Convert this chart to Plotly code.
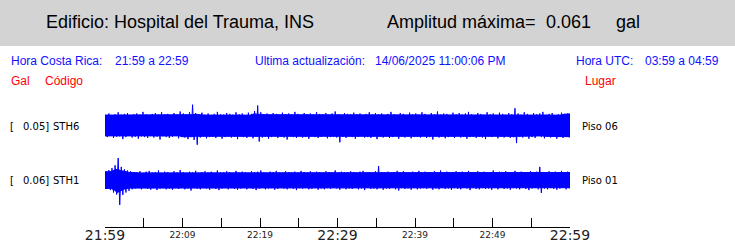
import datetime as dt
import plotly.graph_objects as go

# ---------------- data ----------------
building = "Edificio: Hospital del Trauma, INS"
amp_label = "Amplitud máxima="
amp_value = "0.061"
amp_unit = "gal"
hora_cr = "21:59 a 22:59"
ultima = "14/06/2025 11:00:06 PM"
hora_utc = "03:59 a 04:59"

stations = ["STH6", "STH1"]
scales = ["0.05", "0.06"]
places = ["Piso 06", "Piso 01"]

big_tick_labels = ["21:59", "22:29", "22:59"]
small_tick_labels = ["22:09", "22:19", "22:39", "22:49"]

# envelope of each record, per 24 s window, in milligal (upper peak, lower peak magnitude)
top_sth6 = [27,30,26,28,33,27,29,31,26,28, 30,27,34,28,26,29,31,27,33,28,
            29,26,31,28,35,30,27,33,52,31, 28,32,27,30,26,29,34,28,27,31,
            29,27,33,28,30,26,32,29,36,50, 33,28,30,27,31,29,26,32,28,30,
            27,34,29,26,31,28,30,27,33,29, 28,31,27,30,35,28,26,31,29,27,
            32,28,30,26,29,33,27,31,28,30, 26,29,34,28,27,31,29,26,32,28,
            30,27,33,29,26,31,28,35,27,30, 29,26,32,28,31,27,30,34,28,26,
            31,29,27,33,28,30,26,32,29,27, 31,28,43,30,27,33,29,26,31,28,
            30,34,27,29,31,26,28,32,29,30]
bot_sth6 = [29,26,31,28,27,34,29,26,30,28, 33,27,29,31,26,30,28,35,27,29,
            31,28,26,32,29,30,34,28,36,48, 30,27,32,29,28,31,26,33,29,27,
            30,28,34,27,29,31,26,32,28,40, 30,27,33,29,26,31,28,30,35,27,
            29,31,26,30,28,33,27,29,31,28, 26,32,29,27,30,42,28,31,27,29,
            33,28,26,30,29,31,27,34,28,30, 27,31,29,26,33,28,30,27,32,29,
            28,30,26,31,29,35,27,30,28,32, 29,27,31,26,30,28,33,29,27,31,
            28,30,34,27,29,26,32,28,30,27, 31,29,44,28,30,27,33,29,31,26,
            29,32,28,30,27,33,29,31,28,30]
top_sth1 = [22,26,31,38,56,34,28,25,23,21, 20,23,19,22,24,20,21,25,19,22,
            21,19,23,20,26,21,19,22,20,24, 19,21,23,20,22,19,25,21,20,23,
            21,19,24,20,22,21,19,23,20,22, 25,20,19,22,21,24,20,19,23,21,
            20,22,19,24,21,20,23,19,22,21, 19,23,21,20,25,19,22,21,20,23,
            21,19,22,24,20,21,19,23,36,21, 20,22,19,21,24,20,23,19,21,22,
            20,24,19,22,21,20,23,19,25,21, 22,19,21,23,20,22,19,24,21,20,
            23,19,22,20,21,25,19,22,20,23, 21,19,24,20,22,21,19,23,20,22,
            34,21,20,23,19,22,21,24,20,22]
bot_sth1 = [20,24,30,35,61,36,30,26,22,20, 19,22,18,21,23,19,24,20,18,22,
            20,23,19,21,18,22,20,25,19,21, 22,18,20,23,19,21,24,20,18,22,
            19,21,23,20,18,22,19,21,24,20, 18,22,20,19,23,21,18,20,22,19,
            21,24,19,20,18,22,21,19,23,20, 22,19,21,18,20,23,19,22,20,21,
            19,22,20,24,18,21,20,22,19,23, 20,21,18,22,25,19,21,20,23,19,
            22,20,19,21,18,23,20,22,19,21, 20,23,19,21,22,18,20,24,19,21,
            22,19,21,20,23,19,22,18,21,20, 23,19,20,22,18,21,24,20,19,22,
            31,20,22,19,21,23,20,18,22,20]

# ---------------- layout constants ----------------
W, H = 735, 247
L, R, T, B = 105, 570, 95, 227          # plot area in pixels
OFFSETS = [137.5, 0.0]                  # trace baselines, mgal
YR = [-116.25, 213.75]                  # y range, mgal
t0 = dt.datetime(2025, 6, 14, 21, 59)
t1 = dt.datetime(2025, 6, 14, 22, 59)
WIN = 24

def px(x):
    return (x - L) / (R - L)

def py(y):
    return (B - y) / (B - T)

def rolling_min(v, k=2):
    n = len(v)
    return [min(v[max(0, i - k):min(n, i + k + 1)]) for i in range(n)]

def hm(s):
    h, m = s.split(":")
    return dt.datetime(2025, 6, 14, int(h), int(m))

fig = go.Figure()
for tops, bots, off, xa in [(top_sth6, bot_sth6, OFFSETS[0], "x"),
                            (top_sth1, bot_sth1, OFFSETS[1], "x2")]:
    n = len(tops)
    times = [t0 + dt.timedelta(seconds=i * WIN) for i in range(n)]
    bt, bb = rolling_min(tops), rolling_min(bots)
    px_ = times + [t1] + [t1] + times[::-1]
    py_ = [off + v for v in bt] + [off + bt[-1]] + [off - bb[-1]] + [off - v for v in bb[::-1]]
    fig.add_trace(go.Scatter(x=px_, y=py_, mode="lines", fill="toself", xaxis=xa,
                             fillcolor="#0000ff", line=dict(color="#0000ff", width=1),
                             hoverinfo="skip", showlegend=False))
    xs, ys = [], []
    for i, (a, b) in enumerate(zip(tops, bots)):
        xs.append(times[i] + dt.timedelta(seconds=WIN / 4))
        ys.append(off + a)
        xs.append(times[i] + dt.timedelta(seconds=3 * WIN / 4))
        ys.append(off - b)
    fig.add_trace(go.Scatter(x=xs, y=ys, mode="lines", xaxis=xa,
                             line=dict(color="#0000ff", width=1),
                             hoverinfo="skip", showlegend=False))

all_ticks = [t0 + dt.timedelta(minutes=5 * k) for k in range(13)]
big_vals = [hm(s) for s in big_tick_labels]
tick_text = [t.strftime("%H:%M") if t in big_vals else "" for t in all_ticks]

ann = []
def add(text, x, y, size, color, family="Liberation Sans", anchor="left"):
    ann.append(dict(text=text, x=px(x), y=py(y), xref="paper", yref="paper",
                    xanchor=anchor, yanchor="middle", showarrow=False,
                    font=dict(size=size, color=color, family=family)))

add(building, 44, 22, 18, "black")
add(amp_label, 385, 22, 18, "black")
add(amp_value, 544, 22, 18, "black")
add(amp_unit, 614, 22, 18, "black")

blue = "#1010ff"
add("Hora Costa Rica:", 9, 61, 12, blue)
add(hora_cr, 113, 61, 12, blue)
add("Ultima actualización:", 253, 61, 12, blue)
add(ultima, 373, 61, 12, blue)
add("Hora UTC:", 574, 61, 12, blue)
add(hora_utc, 643, 61, 12, blue)

red = "#ff0000"
add("Gal", 9, 81, 12, red)
add("Código", 43, 81, 12, red)
add("Lugar", 583, 81, 12, red)

for k, yc in enumerate([126.5, 180.5]):
    add("=", 2, yc, 10, "#8c8cff", "DejaVu Sans", "right")
    add("[", 8, yc, 10, "black", "DejaVu Sans")
    add(scales[k] + "]", 21, yc, 10, "black", "DejaVu Sans")
    add(stations[k], 51, yc, 10, "black", "DejaVu Sans")
    add(places[k], 580, yc, 10, "black", "DejaVu Sans")

fig.update_layout(
    width=W, height=H,
    margin=dict(l=L, r=W - R, t=T, b=H - B, pad=0, autoexpand=False),
    paper_bgcolor="white", plot_bgcolor="white",
    showlegend=False,
    annotations=ann,
    shapes=[dict(type="rect", xref="paper", yref="paper",
                 x0=px(0), x1=px(W), y0=py(46), y1=py(0),
                 fillcolor="#d3d3d3", line=dict(width=0), layer="below")],
    xaxis=dict(type="date", range=[t0, t1], showgrid=False, zeroline=False,
               automargin=False,
               showline=True, linecolor="black", linewidth=1,
               ticks="inside", ticklen=9, tickwidth=1, tickcolor="black",
               tickmode="array", tickvals=all_ticks, ticktext=tick_text,
               ticklabelstandoff=-5,
               tickfont=dict(family="DejaVu Sans", size=14, color="#222222")),
    xaxis2=dict(type="date", range=[t0, t1], overlaying="x", anchor="y", side="bottom",
                showgrid=False, zeroline=False, automargin=False, showline=False,
                ticks="", tickmode="array",
                tickvals=[hm(s) for s in small_tick_labels], ticktext=small_tick_labels,
                ticklabelstandoff=1,
                tickfont=dict(family="DejaVu Sans", size=9, color="#222222")),
    yaxis=dict(range=YR, visible=False, fixedrange=True, automargin=False),
)

fig.write_html("out.html")
